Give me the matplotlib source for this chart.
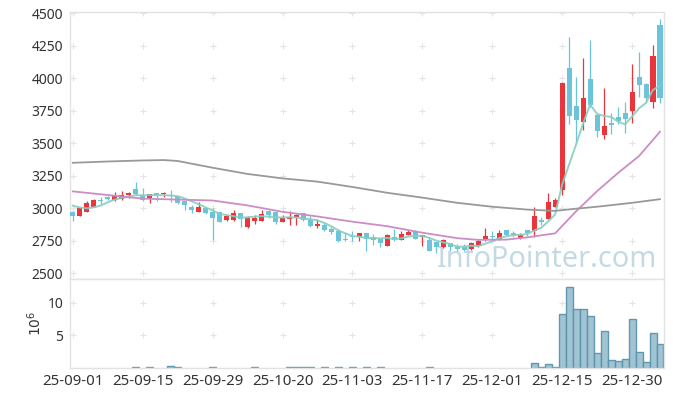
import numpy as np
import matplotlib
matplotlib.use('Agg')
import matplotlib.pyplot as plt

# x axis = trading-day index (0..84), a label every 10 sessions
tick_pos = [0, 10, 20, 30, 40, 50, 60, 70, 80]
tick_labels = ['25-09-01', '25-09-15', '25-09-29', '25-10-20', '25-11-03',
               '25-11-17', '25-12-01', '25-12-15', '25-12-30']

opens = [2972, 2941, 2972, 3008, 3062, 3087, 3059, 3072, 3098, 3146,
         3102, 3077, 3115, 3108, 3102, 3090, 3052, 3008, 2972, 3000,
         2969, 2967, 2908, 2910, 2959, 2852, 2902, 2902, 2977, 2969,
         2895, 2918, 2933, 2962, 2910, 2864, 2872, 2842, 2825, 2762,
         2782, 2779, 2808, 2775, 2764, 2710, 2777, 2754, 2795, 2821,
         2777, 2756, 2736, 2698, 2728, 2710, 2700, 2685, 2705, 2752,
         2787, 2762, 2831, 2805, 2769, 2831, 2821, 2905, 2915, 3010,
         3138, 4075, 3785, 3664, 3992, 3715, 3564, 3654, 3698, 3728,
         3748, 4008, 3954, 3818, 4408]
highs = [2975, 3003, 3052, 3067, 3085, 3090, 3125, 3128, 3123, 3198,
         3154, 3110, 3118, 3123, 3136, 3095, 3055, 3025, 3044, 3003,
         3000, 2970, 2949, 2982, 2962, 2941, 2949, 2982, 2987, 2972,
         2946, 2975, 2951, 2965, 2936, 2915, 2895, 2856, 2841, 2808,
         2825, 2808, 2810, 2802, 2766, 2802, 2839, 2821, 2831, 2833,
         2795, 2775, 2740, 2764, 2730, 2723, 2723, 2738, 2756, 2846,
         2821, 2833, 2833, 2821, 2808, 2833, 3005, 2928, 3113, 3079,
         3972, 4313, 4005, 4152, 4292, 3720, 3921, 3733, 3779, 3818,
         4108, 4198, 3960, 4254, 4452]
lows = [2902, 2935, 2966, 3005, 3031, 3064, 3057, 3062, 3077, 3102,
        3052, 3038, 3052, 3087, 3046, 3031, 2987, 2962, 2970, 2954,
        2754, 2892, 2898, 2902, 2852, 2850, 2877, 2900, 2923, 2879,
        2890, 2867, 2867, 2900, 2852, 2846, 2821, 2800, 2736, 2744,
        2744, 2749, 2667, 2718, 2698, 2708, 2749, 2751, 2790, 2762,
        2705, 2668, 2656, 2695, 2672, 2672, 2667, 2677, 2700, 2744,
        2756, 2752, 2787, 2775, 2759, 2782, 2775, 2872, 2912, 3005,
        3100, 3646, 3498, 3600, 3780, 3544, 3528, 3569, 3646, 3575,
        3652, 3856, 3818, 3767, 3805]
closes = [2941, 3000, 3038, 3059, 3057, 3072, 3100, 3100, 3113, 3108,
          3064, 3108, 3098, 3118, 3090, 3041, 3025, 2985, 3008, 2964,
          2925, 2895, 2938, 2962, 2918, 2928, 2923, 2954, 2946, 2890,
          2923, 2931, 2946, 2905, 2864, 2877, 2833, 2815, 2744, 2754,
          2775, 2805, 2764, 2754, 2731, 2795, 2754, 2802, 2818, 2764,
          2792, 2672, 2698, 2756, 2698, 2685, 2679, 2731, 2744, 2785,
          2779, 2808, 2795, 2795, 2795, 2808, 2941, 2895, 3044, 3062,
          3959, 3710, 3677, 3844, 3792, 3595, 3631, 3641, 3667, 3687,
          3895, 3946, 3849, 4169, 3844]

# volume, in 10^6 shares
volumes = [0, 0, 0, 0, 0, 0, 0, 0, 0, 0.12,
           0, 0.12, 0, 0, 0.3, 0.2, 0, 0, 0, 0,
           0.12, 0, 0, 0, 0, 0, 0.12, 0, 0, 0,
           0, 0.12, 0.12, 0.12, 0.12, 0, 0.12, 0, 0.12, 0,
           0.12, 0, 0.12, 0, 0.12, 0, 0, 0, 0, 0,
           0, 0.12, 0, 0, 0, 0, 0, 0, 0, 0,
           0, 0, 0, 0, 0, 0, 0.71, 0.1, 0.56, 0.1,
           8.27, 12.36, 8.98, 8.98, 7.96, 2.24, 5.67, 1.22, 1.07, 1.38,
           7.5, 2.45, 0.92, 5.36, 3.67]

# moving averages
ma5 = [3018, 3004, 2998, 3005, 3019, 3045, 3065, 3078, 3088, 3099,
       3097, 3099, 3098, 3099, 3096, 3091, 3074, 3052, 3030, 3005,
       2981, 2955, 2946, 2937, 2928, 2928, 2934, 2937, 2934, 2928,
       2927, 2929, 2927, 2919, 2914, 2905, 2885, 2859, 2827, 2805,
       2784, 2779, 2768, 2770, 2766, 2770, 2760, 2767, 2780, 2787,
       2786, 2770, 2749, 2736, 2723, 2702, 2703, 2710, 2707, 2725,
       2744, 2769, 2782, 2792, 2794, 2800, 2827, 2847, 2897, 2950,
       3180, 3334, 3490, 3650, 3796, 3724, 3708, 3701, 3665, 3644,
       3704, 3767, 3809, 3909, 3941]
ma20_idx = [0, 5, 10, 15, 20, 25, 30, 35, 40, 45, 50, 55, 58, 62, 65, 67, 69, 70,
            72, 75, 78, 81, 84]
ma20_val = [3128, 3100, 3072, 3065, 3058, 3020, 2971, 2935, 2895, 2860, 2810, 2768,
            2755, 2757, 2774, 2790, 2805, 2862, 2975, 3130, 3270, 3400, 3587]
ma60_idx = [0, 5, 10, 13, 15, 20, 25, 30, 35, 40, 45, 50, 55, 60, 65, 69, 72, 75, 80, 84]
ma60_val = [3348, 3358, 3366, 3369, 3362, 3310, 3262, 3228, 3203, 3162, 3117, 3080,
            3040, 3010, 2988, 2978, 2995, 3010, 3040, 3068]

UP = '#e9363d'
DOWN = '#6cc4da'
SPINE = '#e2e2e2'
TXT = '#333333'
GRID = '#e4e4e4'

plt.rcParams['font.family'] = ['Noto Sans', 'DejaVu Sans']

o = np.array(opens, float)
h = np.array(highs, float)
l = np.array(lows, float)
c = np.array(closes, float)
x = np.arange(len(o))
up = c >= o

fig = plt.figure(figsize=(6.73, 3.97), dpi=100)
W, H = 673, 397
left, right = 70, 663.5
ax = fig.add_axes([left / W, 1 - 279 / H, (right - left) / W, (279 - 12) / H])
axv = fig.add_axes([left / W, 1 - 368 / H, (right - left) / W, (368 - 279) / H], sharex=ax)

# watermark
ax.text(0.803, 0.044, 'InfoPointer.com', transform=ax.transAxes, ha='center',
        va='baseline', fontsize=20.8, color='#c3d9e4', zorder=0)

# grid as little crosses
yt = np.arange(2500, 4501, 250)
gx, gy = np.meshgrid(tick_pos, yt)
ax.plot(gx.ravel(), gy.ravel(), '+', color=GRID, ms=4, mew=0.8, zorder=1)

# candles
cols = np.where(up, UP, DOWN)
ax.vlines(x, l, h, colors=cols, lw=0.9, zorder=2)
body = np.maximum(np.abs(c - o), 8)
ax.bar(x, body, bottom=np.minimum(o, c), width=0.72, color=cols, zorder=3, linewidth=0)

# moving averages
ax.plot(x, ma5, color='#86cfbf', lw=1.4, alpha=0.9, zorder=4)
ax.plot(ma20_idx, ma20_val, color='#cc8cc6', lw=1.3, zorder=4)
ax.plot(ma60_idx, ma60_val, color='#999999', lw=1.3, zorder=4)

ax.set_ylim(2454, 4508)
ax.set_yticks(yt)
ax.set_xlim(-0.4, 84.5)

# volume
v = np.array(volumes, float)
m = v > 0
axv.bar(x[m], v[m], width=1.0, color='#9cc1d1', edgecolor='#5b93ad', linewidth=1.0,
        alpha=0.95, zorder=2)
vt = [5, 10]
gx2, gy2 = np.meshgrid(tick_pos, vt)
axv.plot(gx2.ravel(), gy2.ravel(), '+', color=GRID, ms=4, mew=0.8, zorder=1)
axv.set_ylim(0, 13.63)
axv.set_yticks(vt)
axv.set_ylabel('$10^6$', fontsize=10, color=TXT, labelpad=2)
axv.set_xticks(tick_pos)
axv.set_xticklabels(tick_labels)

for a in (ax, axv):
    for s in a.spines.values():
        s.set_color(SPINE)
        s.set_linewidth(1.0)
    a.tick_params(length=0, labelsize=10, colors=TXT, pad=5)
ax.tick_params(labelbottom=False)
axv.tick_params(axis='x', labelsize=10.8, pad=4)

fig.savefig('out.png', dpi=100, facecolor='white')
